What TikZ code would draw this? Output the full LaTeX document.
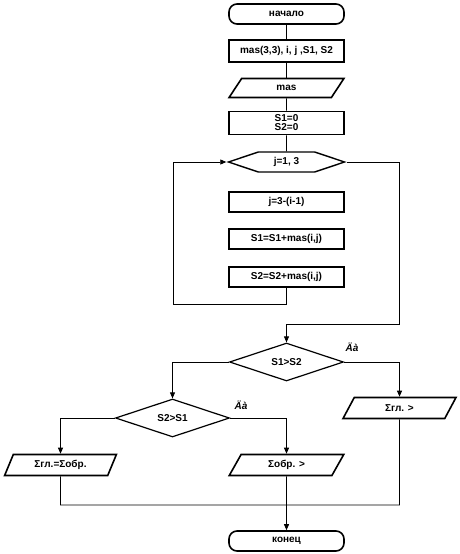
\documentclass[tikz,border=0pt]{standalone}
\usepackage{fontspec}
\setmainfont{Liberation Sans}
\usetikzlibrary{shapes.geometric,shapes.symbols,arrows.meta}

\begin{document}
\begin{tikzpicture}[x=1pt,y=1pt]
\tikzstyle{every node}+=[inner sep=0pt,font=\bfseries\fontsize{10}{9}\selectfont]
\tikzstyle{blk}=[draw,line width=1.6pt,minimum width=115pt,minimum height=21pt]
\tikzstyle{term}=[blk,rounded corners=8pt,minimum height=20pt]
\tikzstyle{io}=[blk,trapezium,trapezium left angle=63,trapezium right angle=117,trapezium stretches=true,minimum width=115pt,minimum height=19pt]
\tikzstyle{cond}=[draw,line width=1.2pt,diamond,minimum width=114pt,minimum height=38pt]
\tikzstyle{cyc}=[draw,line width=1.4pt,signal,signal to=east and west,signal pointer angle=37,minimum width=116pt,minimum height=20pt]
\tikzstyle{ln}=[line width=0.8pt]
\tikzstyle{arr}=[ln,-{Triangle[length=6pt,width=5pt]}]
\tikzstyle{yes}=[font=\bfseries\itshape\fontsize{10}{9}\selectfont]
\useasboundingbox (0,0) rectangle (460,-554);
\node[term] (start) at (286.5,-14) {начало};
\node[blk,minimum height=22pt] (decl) at (286.5,-51) {mas(3,3), i, j ,S1, S2};
\node[io] (inp) at (286.5,-88) {mas};
\node[blk,minimum height=23pt,align=center] (init) at (286.5,-123) {S1=0\\S2=0};
\node[cyc] (loop) at (286.5,-162) {j=1, 3};
\node[blk,minimum height=20pt] (st1) at (286.5,-202) {j=3-(i-1)};
\node[blk,minimum height=20pt] (st2) at (286.5,-239) {S1=S1+mas(i,j)};
\node[blk,minimum height=20pt] (st3) at (286.5,-277) {S2=S2+mas(i,j)};
\node[cond] (cmp1) at (286.5,-362) {S1>S2};
\node[cond] (cmp2) at (172.5,-418) {S2>S1};
\node[yes] (ya1) at (352,-347) {Äà};
\node[yes] (ya2) at (241,-405) {Äà};
\node[io,minimum width=113pt,minimum height=21pt] (outA) at (399.5,-408) {Σгл. >};
\node[io,minimum width=112pt,minimum height=21pt] (eq) at (60.5,-465) {Σгл.=Σобр.};
\node[io,minimum width=115pt,minimum height=21pt] (outB) at (286.5,-465) {Σобр. >};
\node[term] (end) at (286.5,-541) {конец};
\coordinate (lb) at (173,-304);
\coordinate (ex) at (399.5,-324);
\coordinate (mrg) at (399.5,-505);
\draw[ln] (start) -- (decl);
\draw[ln] (decl) -- (inp);
\draw[ln] (inp) -- (init);
\draw[ln] (init) -- (loop);
\draw[arr] (st3.south) |- (lb) |- (loop.west);
\draw[arr] (loop.east) -| (ex) -| (cmp1.north);
\draw[arr] (cmp1.west) -| (cmp2.north);
\draw[arr] (cmp1.east) -| (outA.north);
\draw[arr] (cmp2.west) -| (eq.north);
\draw[arr] (cmp2.east) -| (outB.north);
\draw[ln] (eq.south) |- (mrg) -- (outA.south);
\draw[arr] (outB.south) -- (end.north);
\end{tikzpicture}
\end{document}
